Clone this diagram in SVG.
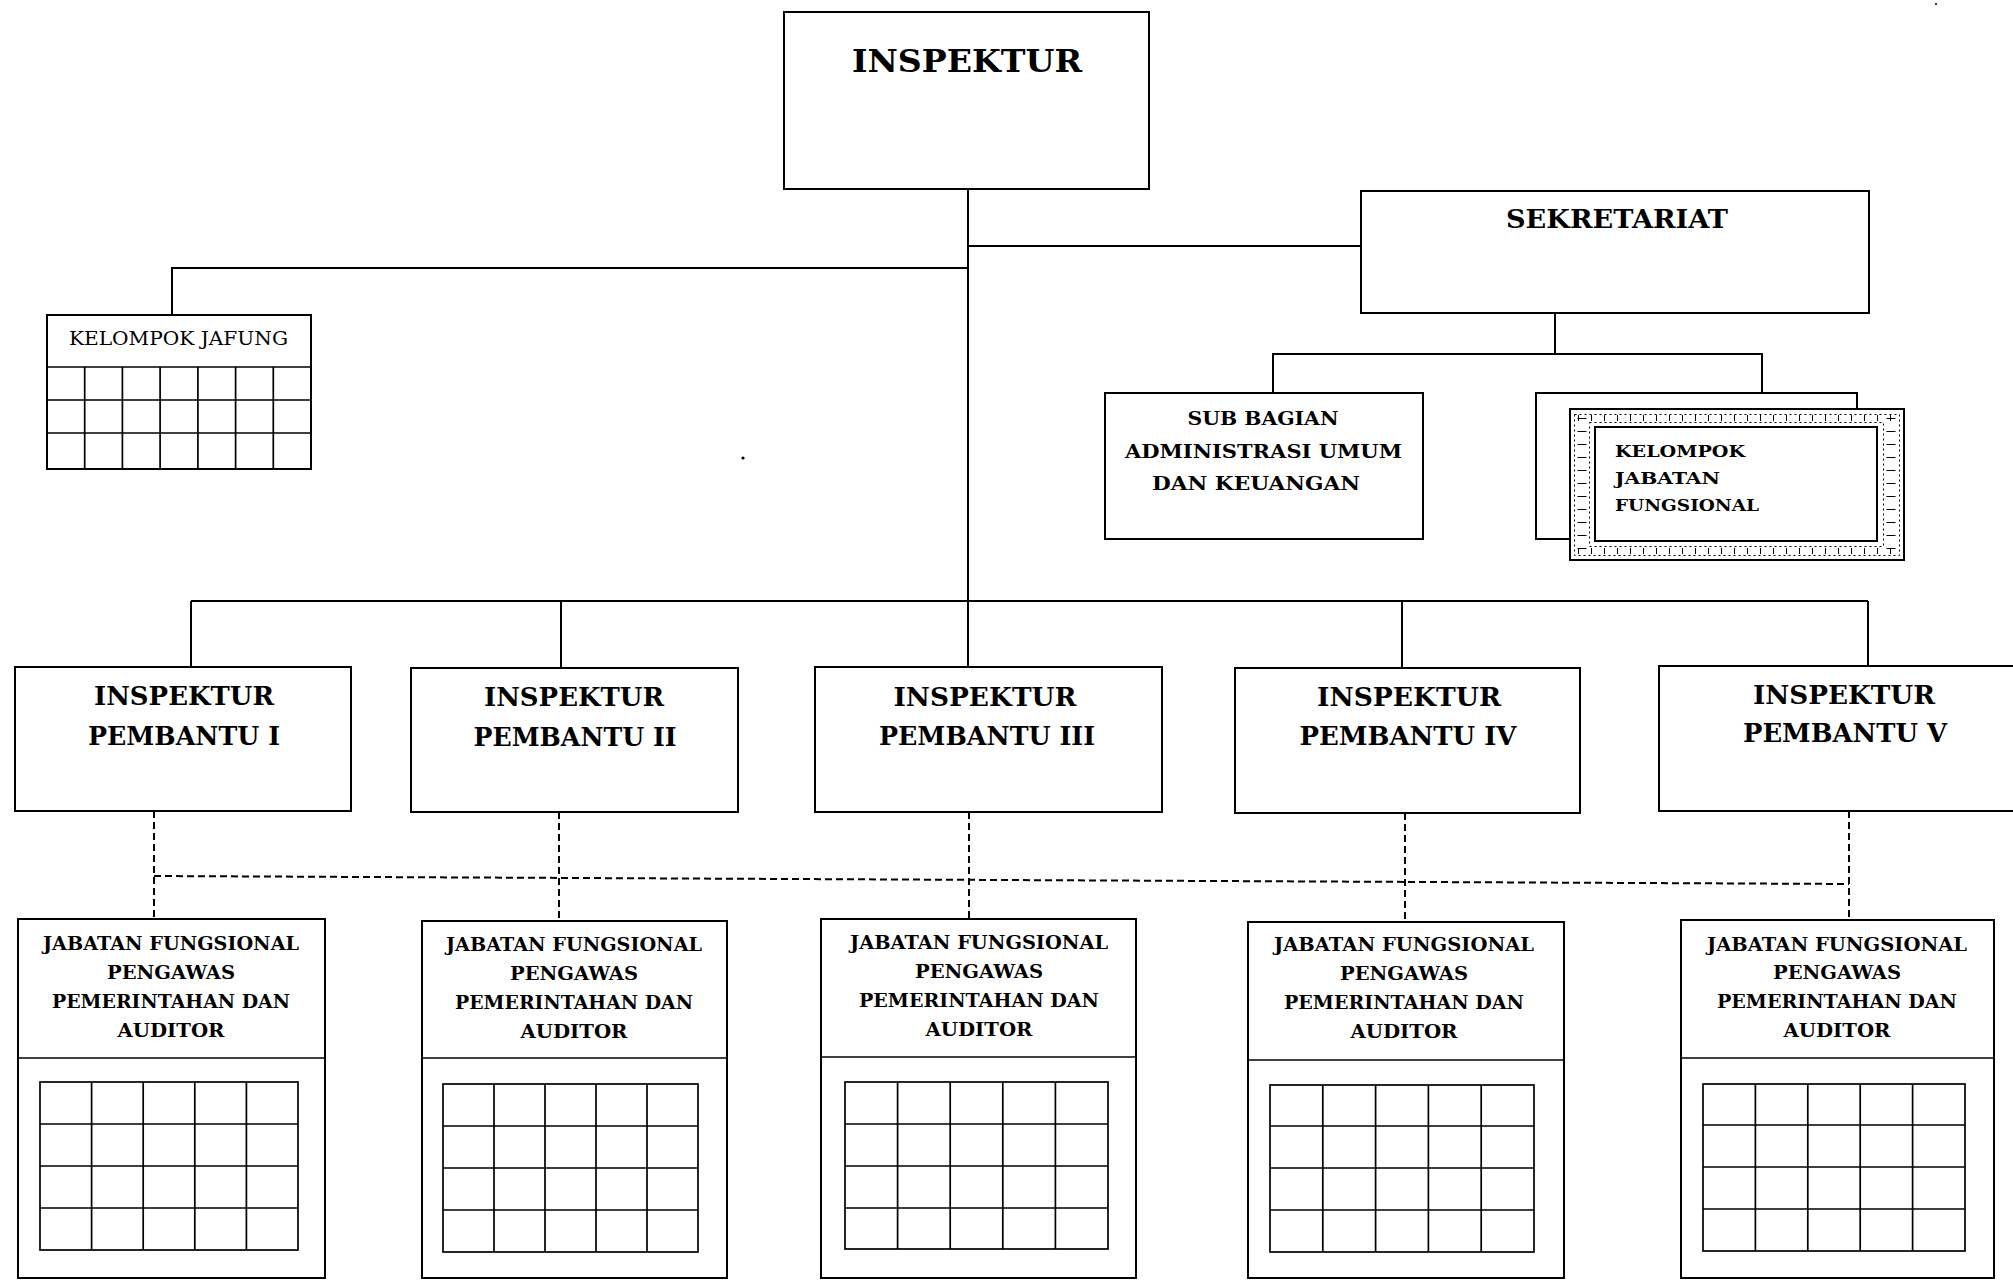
<svg xmlns="http://www.w3.org/2000/svg" width="2013" height="1280" viewBox="0 0 2013 1280">
  <style>
    .box { fill: #fff; stroke: #000; stroke-width: 2; }
    .ln { fill: none; stroke: #000; stroke-width: 2; }
    .dash { fill: none; stroke: #000; stroke-width: 2; stroke-dasharray: 7 4; }
    .grid { fill: none; stroke: #000; stroke-width: 1.7; }
    .t { font-family: "DejaVu Serif", "Liberation Serif", serif; font-weight: bold; fill: #000; text-anchor: middle; }
    .tl { font-family: "DejaVu Serif", "Liberation Serif", serif; font-weight: bold; fill: #000; text-anchor: start; }
    .tr { font-family: "DejaVu Serif", "Liberation Serif", serif; font-weight: normal; fill: #000; text-anchor: middle; }
    .h1 { font-size: 31px; }
    .h2 { font-size: 26px; }
    .h3 { font-size: 18px; }
    .h4 { font-size: 17px; }
    .dot { fill: none; stroke: #000; stroke-width: 1; stroke-dasharray: 2 3; }
    .tick { fill: none; stroke: #000; stroke-dasharray: 1 12; }
  </style>

  <rect width="2013" height="1280" fill="#fff"/>

  <!-- connectors -->
  <g id="connectors">
    <!-- solid reporting lines -->
    <path class="ln" d="M968 189 V601"/>
    <path class="ln" d="M968 246 H1361"/>
    <path class="ln" d="M172 315 V268 H968"/>
    <path class="ln" d="M1555 313 V354"/>
    <path class="ln" d="M1273 393 V354 H1762 V393"/>
    <path class="ln" d="M191 601 H1868"/>
    <path class="ln" d="M191 601 V667"/>
    <path class="ln" d="M561 601 V668"/>
    <path class="ln" d="M968 601 V667"/>
    <path class="ln" d="M1402 601 V668"/>
    <path class="ln" d="M1868 601 V666"/>
    <!-- dashed coordination lines -->
    <path class="dash" d="M154 811 V919"/>
    <path class="dash" d="M559 812 V921"/>
    <path class="dash" d="M969 812 V919"/>
    <path class="dash" d="M1405 813 V922"/>
    <path class="dash" d="M1849 811 V920"/>
    <path class="dash" d="M154 876 L1849 884"/>
  </g>

  <!-- top -->
  <g id="inspektur">
    <rect class="box" x="784" y="12" width="365" height="177"/>
    <text class="t h1" x="967" y="72" textLength="230" lengthAdjust="spacingAndGlyphs">INSPEKTUR</text>
  </g>

  <g id="sekretariat">
    <rect class="box" x="1361" y="191" width="508" height="122"/>
    <text class="t h2" x="1617" y="228" textLength="222" lengthAdjust="spacingAndGlyphs">SEKRETARIAT</text>
  </g>

  <g id="kelompok-jafung">
    <rect class="box" x="47" y="315" width="264" height="154"/>
    <path class="grid" d="M47 367 H311 M47 400 H311 M47 433 H311"/>
    <path class="grid" d="M84.7 367 V469 M122.4 367 V469 M160.1 367 V469 M197.9 367 V469 M235.6 367 V469 M273.3 367 V469"/>
    <text class="tr h3" x="178.5" y="345" textLength="219" lengthAdjust="spacingAndGlyphs">KELOMPOK JAFUNG</text>
  </g>

  <g id="sub-bagian">
    <rect class="box" x="1105" y="393" width="318" height="146"/>
    <text class="t h3" x="1263" y="425" textLength="151" lengthAdjust="spacingAndGlyphs">SUB BAGIAN</text>
    <text class="t h3" x="1263.5" y="458" textLength="277" lengthAdjust="spacingAndGlyphs">ADMINISTRASI UMUM</text>
    <text class="t h3" x="1256" y="490" textLength="208" lengthAdjust="spacingAndGlyphs">DAN KEUANGAN</text>
  </g>

  <g id="kelompok-jabatan-fungsional">
    <rect class="box" x="1536" y="393" width="321" height="146"/>
    <!-- ruled frame -->
    <rect class="box" x="1570" y="409" width="334" height="151"/>
    <rect class="dot" x="1574.5" y="414.5" width="325" height="141"/>
    <rect class="dot" x="1589.5" y="422.5" width="294" height="124"/>
    <path class="tick" stroke-width="6" d="M1578 418 H1898"/>
    <path class="tick" stroke-width="6" d="M1578 551 H1898"/>
    <path class="tick" stroke-width="9" d="M1582 418 V552"/>
    <path class="tick" stroke-width="9" d="M1891 418 V552"/>
    <rect class="box" x="1595" y="427" width="282" height="114"/>
    <text class="tl h4" x="1615" y="457" textLength="130" lengthAdjust="spacingAndGlyphs">KELOMPOK</text>
    <text class="tl h4" x="1615" y="484" textLength="105" lengthAdjust="spacingAndGlyphs">JABATAN</text>
    <text class="tl h4" x="1615" y="511" textLength="144" lengthAdjust="spacingAndGlyphs">FUNGSIONAL</text>
  </g>

  <!-- inspektur pembantu -->
  <g id="ip-1">
    <rect class="box" x="15" y="667" width="336" height="144"/>
    <text class="t h2" x="184" y="705" textLength="180" lengthAdjust="spacingAndGlyphs">INSPEKTUR</text>
    <text class="t h2" x="184" y="745" textLength="192" lengthAdjust="spacingAndGlyphs">PEMBANTU I</text>
  </g>
  <g id="ip-2">
    <rect class="box" x="411" y="668" width="327" height="144"/>
    <text class="t h2" x="574" y="706" textLength="180" lengthAdjust="spacingAndGlyphs">INSPEKTUR</text>
    <text class="t h2" x="575" y="746" textLength="203" lengthAdjust="spacingAndGlyphs">PEMBANTU II</text>
  </g>
  <g id="ip-3">
    <rect class="box" x="815" y="667" width="347" height="145"/>
    <text class="t h2" x="985" y="706" textLength="183" lengthAdjust="spacingAndGlyphs">INSPEKTUR</text>
    <text class="t h2" x="987" y="745" textLength="216" lengthAdjust="spacingAndGlyphs">PEMBANTU III</text>
  </g>
  <g id="ip-4">
    <rect class="box" x="1235" y="668" width="345" height="145"/>
    <text class="t h2" x="1409" y="706" textLength="184" lengthAdjust="spacingAndGlyphs">INSPEKTUR</text>
    <text class="t h2" x="1408" y="745" textLength="217" lengthAdjust="spacingAndGlyphs">PEMBANTU IV</text>
  </g>
  <g id="ip-5">
    <rect class="box" x="1659" y="666" width="360" height="145"/>
    <text class="t h2" x="1844" y="704" textLength="182" lengthAdjust="spacingAndGlyphs">INSPEKTUR</text>
    <text class="t h2" x="1845" y="742" textLength="204" lengthAdjust="spacingAndGlyphs">PEMBANTU V</text>
  </g>

  <!-- jabatan fungsional blocks -->
  <g id="jf-1">
    <rect class="box" x="18" y="919" width="307" height="359"/>
    <path class="grid" d="M18 1058 H325"/>
    <rect class="grid" x="40" y="1082" width="258" height="168"/>
    <path class="grid" d="M40 1124 H298 M40 1166 H298 M40 1208 H298 M91.6 1082 V1250 M143.2 1082 V1250 M194.8 1082 V1250 M246.4 1082 V1250"/>
    <text class="t h3" x="171" y="950" textLength="256" lengthAdjust="spacingAndGlyphs">JABATAN FUNGSIONAL</text>
    <text class="t h3" x="171" y="979" textLength="128" lengthAdjust="spacingAndGlyphs">PENGAWAS</text>
    <text class="t h3" x="171" y="1008" textLength="238" lengthAdjust="spacingAndGlyphs">PEMERINTAHAN DAN</text>
    <text class="t h3" x="171" y="1037" textLength="107" lengthAdjust="spacingAndGlyphs">AUDITOR</text>
  </g>
  <g id="jf-2">
    <rect class="box" x="422" y="921" width="305" height="357"/>
    <path class="grid" d="M422 1058 H727"/>
    <rect class="grid" x="443" y="1084" width="255" height="168"/>
    <path class="grid" d="M443 1126 H698 M443 1168 H698 M443 1210 H698 M494 1084 V1252 M545 1084 V1252 M596 1084 V1252 M647 1084 V1252"/>
    <text class="t h3" x="574" y="951" textLength="256" lengthAdjust="spacingAndGlyphs">JABATAN FUNGSIONAL</text>
    <text class="t h3" x="574" y="980" textLength="128" lengthAdjust="spacingAndGlyphs">PENGAWAS</text>
    <text class="t h3" x="574" y="1009" textLength="238" lengthAdjust="spacingAndGlyphs">PEMERINTAHAN DAN</text>
    <text class="t h3" x="574" y="1038" textLength="107" lengthAdjust="spacingAndGlyphs">AUDITOR</text>
  </g>
  <g id="jf-3">
    <rect class="box" x="821" y="919" width="315" height="359"/>
    <path class="grid" d="M821 1057 H1136"/>
    <rect class="grid" x="845" y="1082" width="263" height="167"/>
    <path class="grid" d="M845 1124 H1108 M845 1166 H1108 M845 1208 H1108 M897.6 1082 V1249 M950.2 1082 V1249 M1002.8 1082 V1249 M1055.4 1082 V1249"/>
    <text class="t h3" x="979" y="949" textLength="258" lengthAdjust="spacingAndGlyphs">JABATAN FUNGSIONAL</text>
    <text class="t h3" x="979" y="978" textLength="128" lengthAdjust="spacingAndGlyphs">PENGAWAS</text>
    <text class="t h3" x="979" y="1007" textLength="240" lengthAdjust="spacingAndGlyphs">PEMERINTAHAN DAN</text>
    <text class="t h3" x="979" y="1036" textLength="107" lengthAdjust="spacingAndGlyphs">AUDITOR</text>
  </g>
  <g id="jf-4">
    <rect class="box" x="1248" y="922" width="316" height="356"/>
    <path class="grid" d="M1248 1060 H1564"/>
    <rect class="grid" x="1270" y="1085" width="264" height="167"/>
    <path class="grid" d="M1270 1126 H1534 M1270 1168 H1534 M1270 1210 H1534 M1322.8 1085 V1252 M1375.6 1085 V1252 M1428.4 1085 V1252 M1481.2 1085 V1252"/>
    <text class="t h3" x="1404" y="951" textLength="260" lengthAdjust="spacingAndGlyphs">JABATAN FUNGSIONAL</text>
    <text class="t h3" x="1404" y="980" textLength="128" lengthAdjust="spacingAndGlyphs">PENGAWAS</text>
    <text class="t h3" x="1404" y="1009" textLength="240" lengthAdjust="spacingAndGlyphs">PEMERINTAHAN DAN</text>
    <text class="t h3" x="1404" y="1038" textLength="107" lengthAdjust="spacingAndGlyphs">AUDITOR</text>
  </g>
  <g id="jf-5">
    <rect class="box" x="1681" y="920" width="313" height="358"/>
    <path class="grid" d="M1681 1058 H1994"/>
    <rect class="grid" x="1703" y="1084" width="262" height="167"/>
    <path class="grid" d="M1703 1125 H1965 M1703 1167 H1965 M1703 1209 H1965 M1755.4 1084 V1251 M1807.8 1084 V1251 M1860.2 1084 V1251 M1912.6 1084 V1251"/>
    <text class="t h3" x="1837" y="951" textLength="260" lengthAdjust="spacingAndGlyphs">JABATAN FUNGSIONAL</text>
    <text class="t h3" x="1837" y="979" textLength="128" lengthAdjust="spacingAndGlyphs">PENGAWAS</text>
    <text class="t h3" x="1837" y="1008" textLength="240" lengthAdjust="spacingAndGlyphs">PEMERINTAHAN DAN</text>
    <text class="t h3" x="1837" y="1037" textLength="107" lengthAdjust="spacingAndGlyphs">AUDITOR</text>
  </g>

  <!-- stray marks -->
  <circle cx="743" cy="458" r="1.6" fill="#000"/>
  <circle cx="1936" cy="4" r="1" fill="#000"/>
</svg>
